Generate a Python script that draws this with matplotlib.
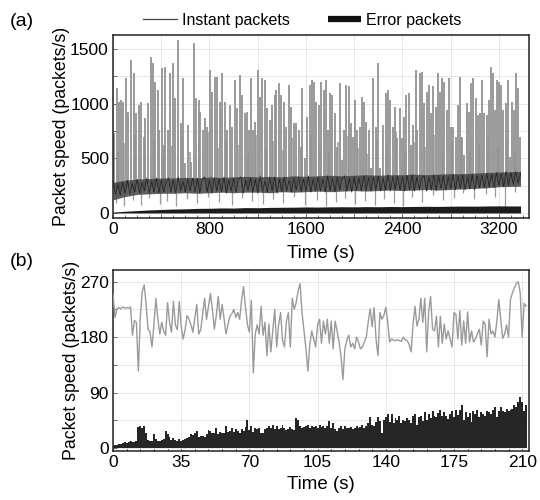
import numpy as np
import matplotlib
matplotlib.use('Agg')
import matplotlib.pyplot as plt
from matplotlib.lines import Line2D
from matplotlib.ticker import MultipleLocator, FuncFormatter

plt.rcParams['font.family'] = ['Liberation Sans', 'DejaVu Sans']

# ---------------- panel (a) data ----------------
# dense background level of instant packets, sampled every 20 s from t = 0
a_base = [
    290, 170, 260, 160, 280, 180, 300, 170, 270, 190, 310, 180, 280, 200, 320, 180, 290,
    190, 320, 180, 300, 190, 280, 320, 190, 300, 180, 330, 200, 290, 190, 310, 200, 320,
    190, 320, 180, 310, 330, 190, 300, 180, 320, 200, 310, 190, 330, 180, 300, 200, 320,
    190, 310, 330, 180, 300, 200, 320, 190, 310, 180, 340, 200, 290, 190, 320, 200, 330,
    180, 310, 190, 330, 200, 300, 190, 320, 210, 330, 190, 310, 200, 340, 190, 310, 200,
    330, 200, 310, 190, 340, 200, 320, 190, 330, 210, 310, 340, 200, 320, 190, 330, 210,
    320, 200, 340, 210, 320, 200, 330, 210, 340, 200, 320, 210, 350, 200, 330, 210, 340,
    210, 330, 200, 340, 210, 350, 200, 330, 210, 320, 340, 200, 330, 210, 350, 200, 340,
    220, 340, 210, 330, 220, 350, 210, 340, 220, 350, 210, 330, 220, 350, 210, 340, 230,
    340, 230, 360, 240, 350, 230, 370, 250, 360, 240, 380, 250, 370, 260, 380, 270, 360,
]
a_base_step = 20

# lower / upper edge of the dense background band, every 100 s
a_band_lo = [120, 150, 170, 175, 180, 180, 185, 180, 185, 190, 185, 190, 190, 185, 195,
             190, 195, 200, 195, 200, 205, 200, 205, 210, 205, 210, 215, 210, 215, 220,
             225, 230, 240, 245]
a_band_hi = [280, 300, 310, 315, 320, 320, 325, 320, 330, 325, 330, 335, 330, 335, 330,
             340, 335, 340, 345, 340, 345, 350, 345, 350, 350, 355, 350, 355, 360, 360,
             365, 370, 375, 380]
a_band_step = 100

# short drops of instant packets below the background level
a_dip_t = [25, 95, 165, 235, 300, 390, 445, 520, 610, 700, 790, 880, 985, 1070, 1150,
           1245, 1330, 1410, 1505, 1590, 1690, 1770, 1850, 1925, 2005, 2090, 2170, 2245,
           2330, 2405, 2480, 2560, 2650, 2740, 2830, 2905, 2995, 3090, 3170, 3250, 3330]
a_dip_v = [90, 60, 120, 70, 140, 80, 110, 60, 130, 90, 150, 100, 70, 140, 110, 80, 130,
           90, 150, 70, 120, 60, 100, 140, 80, 110, 70, 130, 90, 60, 150, 100, 160, 120,
           140, 180, 130, 170, 150, 60, 190]

# bursts of instant packets: time (s) and peak value
a_spike_t = [
    12, 31, 48, 67, 86, 109, 128, 150, 172, 192, 214, 233, 255, 269, 288, 311, 330, 349,
    372, 385, 405, 421, 432, 455, 474, 496, 516, 543, 562, 579, 601, 626, 648, 668, 690,
    709, 723, 745, 765, 779, 801, 823, 842, 862, 884, 903, 925, 945, 967, 986, 1008, 1028,
    1050, 1072, 1091, 1111, 1127, 1147, 1161, 1180, 1202, 1222, 1235, 1257, 1280, 1299,
    1318, 1341, 1354, 1374, 1396, 1418, 1437, 1460, 1479, 1498, 1521, 1540, 1557, 1570,
    1590, 1609, 1631, 1653, 1664, 1687, 1706, 1728, 1748, 1764, 1784, 1797, 1817, 1839,
    1858, 1880, 1900, 1916, 1936, 1955, 1977, 1991, 2011, 2027, 2047, 2066, 2083, 2102,
    2121, 2138, 2157, 2177, 2199, 2218, 2240, 2260, 2282, 2301, 2318, 2337, 2357, 2379,
    2398, 2415, 2434, 2453, 2470, 2489, 2509, 2525, 2545, 2564, 2581, 2600, 2620, 2636,
    2656, 2675, 2692, 2711, 2730, 2747, 2766, 2786, 2802, 2822, 2841, 2858, 2877, 2896,
    2913, 2932, 2952, 2968, 2988, 3007, 3024, 3043, 3063, 3079, 3099, 3118, 3132, 3148,
    3168, 3187, 3201, 3218, 3237, 3256, 3273, 3292, 3312, 3326, 3342, 3362, 3372,
]
a_spike_v = [
    729, 1141, 1019, 1033, 1019, 1232, 926, 1400, 1278, 911, 988, 1019, 698, 866, 1004,
    1430, 1369, 1202, 1126, 760, 1324, 622, 1339, 760, 1278, 1369, 1050, 1583, 820, 1232,
    454, 805, 470, 1552, 1050, 1033, 926, 760, 866, 790, 1308, 1111, 1247, 1247, 1019,
    1278, 1019, 760, 988, 790, 1217, 958, 1263, 1080, 911, 926, 760, 1232, 760, 836, 1308,
    1065, 1232, 1217, 958, 851, 988, 1080, 1126, 1187, 1080, 1019, 790, 1172, 973, 820,
    820, 760, 607, 1141, 500, 881, 1172, 1217, 1202, 1019, 988, 1202, 1126, 1217, 760,
    1096, 1080, 911, 607, 1187, 485, 760, 1172, 1157, 820, 698, 1033, 760, 790, 1065,
    1019, 836, 760, 409, 1232, 790, 1369, 409, 805, 1096, 1126, 1033, 790, 973, 683, 958,
    683, 881, 1080, 1096, 622, 805, 1308, 760, 1278, 1293, 1004, 1111, 1172, 911, 1157,
    973, 1278, 1111, 1232, 1202, 942, 1232, 790, 790, 698, 988, 1247, 698, 531, 1004, 926,
    1187, 1232, 1050, 896, 911, 1217, 911, 896, 1033, 1339, 1278, 942, 1217, 1202, 1172,
    942, 1004, 1217, 516, 1019, 942, 1278, 1141, 698,
]

# smaller bursts between the large ones
a_small_t = [40, 95, 180, 262, 340, 415, 488, 570, 640, 715, 790, 870, 935, 1040, 1118,
             1190, 1268, 1330, 1408, 1488, 1565, 1640, 1718, 1790, 1870, 1945, 2035, 2110,
             2190, 2270, 2345, 2425, 2500, 2590, 2665, 2740, 2812, 2885, 2960, 3035, 3110,
             3195, 3265, 3335]
a_small_v = [560, 640, 720, 590, 680, 520, 610, 700, 560, 650, 740, 590, 680, 620, 540,
             710, 600, 660, 580, 690, 540, 720, 610, 560, 650, 700, 590, 540, 680, 620,
             740, 560, 650, 600, 710, 580, 640, 690, 560, 620, 700, 600, 660, 580]

# error packets in panel (a), every 100 s
a_err = [8, 16, 22, 28, 32, 36, 38, 42, 43, 46, 45, 49, 48, 51, 52, 53, 55, 54, 56, 57,
         56, 58, 57, 59, 58, 60, 61, 60, 62, 63, 62, 64, 65, 64]
a_err_step = 100

# ---------------- panel (b) data (1 s resolution) ----------------
b_inst = [
    250, 212, 226, 228, 226, 229, 227, 228, 227, 229,
    183, 207, 204, 125, 212, 254, 265, 232, 193, 188,
    164, 200, 243, 210, 185, 204, 190, 183, 236, 205,
    188, 238, 200, 192, 238, 198, 177, 192, 215, 209,
    200, 188, 212, 233, 185, 192, 217, 243, 209, 230,
    251, 225, 193, 215, 246, 209, 233, 210, 185, 200,
    214, 218, 225, 212, 220, 209, 240, 262, 228, 200,
    188, 240, 122, 185, 200, 185, 230, 183, 204, 150,
    201, 156, 190, 225, 164, 200, 220, 175, 164, 205,
    220, 164, 243, 225, 236, 255, 267, 220, 191, 162,
    125, 167, 190, 177, 164, 200, 209, 170, 206, 185,
    209, 170, 206, 161, 206, 190, 172, 150, 111, 161,
    175, 183, 164, 170, 161, 180, 172, 161, 164, 172,
    180, 205, 226, 197, 228, 177, 150, 220, 209, 215,
    228, 204, 172, 177, 175, 174, 176, 174, 173, 180,
    176, 174, 168, 156, 201, 230, 198, 209, 243, 204,
    243, 156, 221, 246, 193, 190, 214, 164, 214, 170,
    201, 177, 190, 177, 164, 220, 217, 177, 223, 167,
    206, 170, 221, 172, 190, 172, 177, 185, 193, 167,
    206, 201, 148, 209, 185, 190, 180, 205, 241, 210,
    178, 185, 200, 180, 241, 252, 260, 267, 270, 252,
    180, 235, 230,
]
b_err = [
    3, 4, 5, 6, 6, 8, 9, 8, 10, 11,
    10, 9, 12, 34, 36, 33, 35, 24, 13, 12,
    11, 22, 14, 12, 11, 13, 15, 27, 22, 17,
    13, 16, 13, 12, 14, 12, 13, 14, 16, 18,
    22, 21, 24, 27, 18, 19, 20, 18, 22, 29,
    27, 24, 25, 32, 23, 26, 24, 25, 35, 26,
    27, 32, 26, 30, 28, 24, 30, 28, 34, 46,
    29, 35, 26, 33, 31, 32, 25, 24, 30, 32,
    35, 33, 37, 31, 36, 30, 32, 37, 33, 29,
    31, 34, 30, 29, 49, 45, 35, 32, 34, 36,
    37, 33, 36, 34, 35, 32, 37, 34, 36, 33,
    35, 43, 32, 40, 30, 27, 33, 35, 31, 35,
    33, 32, 34, 31, 33, 35, 32, 34, 38, 33,
    36, 40, 50, 38, 35, 42, 50, 44, 24, 45,
    50, 55, 42, 55, 40, 48, 45, 52, 41, 45,
    44, 48, 45, 40, 52, 55, 38, 50, 52, 44,
    58, 45, 55, 48, 60, 52, 50, 56, 61, 52,
    58, 52, 47, 55, 60, 50, 61, 54, 61, 69,
    45, 58, 50, 56, 42, 60, 55, 62, 50, 58,
    55, 52, 60, 58, 55, 62, 66, 50, 60, 66,
    60, 58, 64, 60, 62, 64, 69, 66, 74, 82,
    74, 60, 69,
]

legend_labels = ['Instant packets', 'Error packets']

# ---------------- figure ----------------
fig = plt.figure(figsize=(5.4, 5.0), dpi=100)
axa = fig.add_axes([0.2093, 0.564, 0.7703, 0.366])
axb = fig.add_axes([0.2093, 0.098, 0.7703, 0.362])

TICK_FS = 12.5
XLAB_FS = 13.5
YLAB_FS = 12.8

# panel (a): background band, bursts and drops of instant packets, error packets
tb = np.arange(len(a_base)) * a_base_step
spike_t = np.array(a_spike_t, float)
small_t = np.array(a_small_t, float)
dip_t = np.array(a_dip_t, float)
axa.vlines(small_t, np.interp(small_t, tb, a_base), a_small_v,
           color='#a8a8a8', lw=1.3, zorder=2)
axa.vlines(spike_t, np.interp(spike_t, tb, a_base), a_spike_v,
           color='#929292', lw=1.3, zorder=2)
axa.vlines(dip_t, a_dip_v, np.interp(dip_t, tb, a_base),
           color='#9a9a9a', lw=0.9, zorder=2)
tband = np.arange(len(a_band_lo)) * a_band_step
tband[-1] = tb[-1]
axa.fill_between(tband, a_band_lo, a_band_hi, color='#444444', lw=0, alpha=0.85, zorder=3)
axa.plot(tb, a_base, color='#1e1e1e', lw=0.5, zorder=3)

te = np.arange(len(a_err)) * a_err_step
te = np.append(te, tb[-1])
ve = np.append(a_err, a_err[-1])
axa.fill_between(te, 0, ve, color='#1c1c1c', lw=0, zorder=4)

axa.set_xlim(0, 3450)
axa.set_ylim(-46, 1628)
axa.xaxis.set_major_locator(MultipleLocator(400))
axa.xaxis.set_minor_locator(MultipleLocator(100))
axa.yaxis.set_major_locator(MultipleLocator(250))
axa.xaxis.set_major_formatter(FuncFormatter(lambda x, p: f'{int(round(x))}' if round(x) % 800 == 0 else ''))
axa.yaxis.set_major_formatter(FuncFormatter(lambda y, p: f'{int(round(y))}' if round(y) % 500 == 0 else ''))
axa.set_xlabel('Time (s)', fontsize=XLAB_FS, labelpad=6)
axa.set_ylabel('Packet speed (packets/s)', fontsize=YLAB_FS, labelpad=0)

# panel (b)
tt = np.arange(len(b_inst))
axb.bar(np.arange(len(b_err)), b_err, width=1.0, color='#262626', lw=0, zorder=2)
axb.plot(tt, b_inst, color='#9a9a9a', lw=1.0, zorder=3)
axb.set_xlim(0, 213.5)
axb.set_ylim(-5, 289)
axb.xaxis.set_major_locator(MultipleLocator(35))
axb.xaxis.set_minor_locator(MultipleLocator(7))
axb.yaxis.set_major_locator(MultipleLocator(45))
axb.yaxis.set_major_formatter(FuncFormatter(lambda y, p: f'{int(round(y))}' if round(y) % 90 == 0 else ''))
axb.set_xlabel('Time (s)', fontsize=XLAB_FS, labelpad=4)
axb.set_ylabel('Packet speed (packets/s)', fontsize=YLAB_FS, labelpad=0)

for ax in (axa, axb):
    ax.grid(True, which='major', color='#e6e6e6', lw=0.7, zorder=0)
    ax.set_axisbelow(True)
    ax.tick_params(which='both', direction='in', labelsize=TICK_FS, pad=3,
                   color='#555555', width=0.6)
    ax.tick_params(which='major', length=3)
    ax.tick_params(which='minor', length=2)
    for s in ax.spines.values():
        s.set_color('#222222')
        s.set_linewidth(1.1)

fig.text(0.018, 0.958, '(a)', fontsize=14, va='center', ha='left')
fig.text(0.018, 0.476, '(b)', fontsize=14, va='center', ha='left')

handles = [Line2D([], [], color='#444444', lw=0.9),
           Line2D([], [], color='#111111', lw=4.5, solid_capstyle='butt')]
fig.legend(handles, legend_labels, loc='center', bbox_to_anchor=(0.56, 0.96), ncol=2,
           frameon=False, fontsize=11.5, handlelength=2.1, handletextpad=0.3,
           columnspacing=2.4, borderaxespad=0)

fig.savefig('out.png', dpi=100)
